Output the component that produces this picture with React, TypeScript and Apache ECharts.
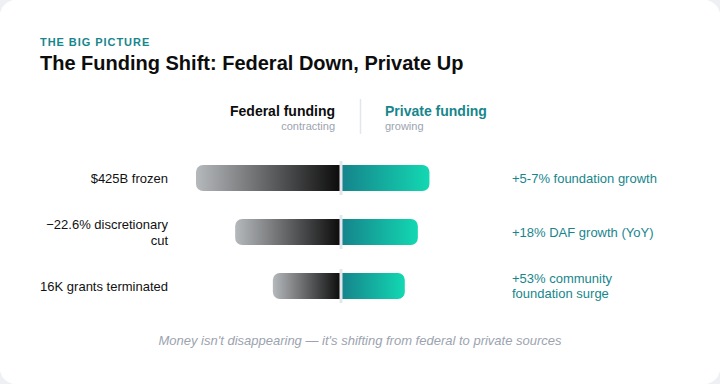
import React, { useEffect, useRef } from "react";
import * as echarts from "echarts";

const leftLabels = ["$425B frozen", "−22.6% discretionary cut", "16K grants terminated"];
const rightLabels = ["+5-7% foundation growth", "+18% DAF growth (YoY)", "+53% community foundation surge"];
const federalValues = [-100, -73, -47];
const privateValues = [61, 53, 44];
const centerMarks = [[0, 0], [0, 1], [0, 2]];

const TEAL = "#17868c";
const FONT = "'Liberation Sans', Arial, Helvetica, sans-serif";

function wrap(text: string, maxWidth: number, font: string): string {
  const ctx = document.createElement("canvas").getContext("2d")!;
  ctx.font = font;
  const words = text.split(" ");
  const lines: string[] = [];
  let cur = "";
  for (const w of words) {
    const test = cur ? cur + " " + w : w;
    if (cur && ctx.measureText(test).width > maxWidth) {
      lines.push(cur);
      cur = w;
    } else {
      cur = test;
    }
  }
  if (cur) lines.push(cur);
  return lines.join("\n");
}

export default function App() {
  const ref = useRef<HTMLDivElement>(null);
  useEffect(() => {
    document.body.style.margin = "0";
    document.body.style.background = "#eef0f3";
    const chart = echarts.init(ref.current!, undefined, { renderer: "svg" });
    const labelFont = `13px ${FONT}`;
    chart.setOption({
      animation: false,
      backgroundColor: "#ffffff",
      textStyle: { fontFamily: FONT },
      grid: { left: 196, right: 234, top: 151, bottom: 71 },
      xAxis: {
        type: "value",
        min: -100,
        max: 100,
        show: false,
      },
      yAxis: [
        {
          type: "category",
          data: leftLabels,
          inverse: true,
          position: "left",
          axisLine: { show: false },
          axisTick: { show: false },
          splitLine: { show: false },
          axisLabel: {
            margin: 28,
            fontSize: 13,
            lineHeight: 16,
            color: "#111111",
            fontFamily: FONT,
            align: "right",
            formatter: (v: string) => wrap(v, 135, labelFont),
          },
        },
        {
          type: "category",
          data: rightLabels,
          inverse: true,
          position: "right",
          axisLine: { show: false },
          axisTick: { show: false },
          splitLine: { show: false },
          axisLabel: {
            margin: 26,
            fontSize: 13,
            lineHeight: 15,
            color: TEAL,
            fontFamily: FONT,
            align: "left",
            formatter: (v: string) => wrap(v, 150, labelFont),
          },
        },
      ],
      series: [
        {
          type: "bar",
          stack: "s",
          barWidth: 26,
          data: federalValues,
          itemStyle: {
            borderRadius: [7, 0, 0, 7],
            color: new echarts.graphic.LinearGradient(0, 0, 1, 0, [
              { offset: 0, color: "#b6b9bc" },
              { offset: 1, color: "#0b0b0b" },
            ]),
          },
        },
        {
          type: "bar",
          stack: "s",
          barWidth: 26,
          data: privateValues,
          itemStyle: {
            borderRadius: [0, 7, 7, 0],
            color: new echarts.graphic.LinearGradient(0, 0, 1, 0, [
              { offset: 0, color: "#15838b" },
              { offset: 1, color: "#13d8b2" },
            ]),
          },
        },
        {
          type: "scatter",
          data: centerMarks,
          symbol: "rect",
          symbolSize: [3, 34],
          itemStyle: { color: "#e3e6ea", opacity: 1 },
          z: 5,
          silent: true,
        },
      ],
      graphic: [
        {
          type: "text",
          x: 40,
          y: 42,
          style: {
            text: "THE BIG PICTURE",
            font: `bold 11px ${FONT}`,
            fill: TEAL,
            textVerticalAlign: "middle",
          },
        },
        {
          type: "text",
          x: 40,
          y: 63,
          style: {
            text: "The Funding Shift: Federal Down, Private Up",
            font: `bold 20px ${FONT}`,
            fill: "#0d0d0d",
            textVerticalAlign: "middle",
          },
        },
        {
          type: "text",
          x: 335,
          y: 111,
          style: {
            text: "Federal funding",
            font: `bold 14px ${FONT}`,
            fill: "#0d0d0d",
            textAlign: "right",
            textVerticalAlign: "middle",
          },
        },
        {
          type: "text",
          x: 335,
          y: 126,
          style: {
            text: "contracting",
            font: `11px ${FONT}`,
            fill: "#9ca3af",
            textAlign: "right",
            textVerticalAlign: "middle",
          },
        },
        {
          type: "line",
          shape: { x1: 360.5, y1: 99, x2: 360.5, y2: 134 },
          style: { stroke: "#e3e6ea", lineWidth: 1.5 },
        },
        {
          type: "text",
          x: 385,
          y: 111,
          style: {
            text: "Private funding",
            font: `bold 14px ${FONT}`,
            fill: TEAL,
            textAlign: "left",
            textVerticalAlign: "middle",
          },
        },
        {
          type: "text",
          x: 385,
          y: 126,
          style: {
            text: "growing",
            font: `11px ${FONT}`,
            fill: "#9ca3af",
            textAlign: "left",
            textVerticalAlign: "middle",
          },
        },
        {
          type: "text",
          x: 360,
          y: 340,
          style: {
            text: "Money isn't disappearing — it's shifting from federal to private sources",
            font: `italic 13px ${FONT}`,
            fill: "#9ca3af",
            textAlign: "center",
            textVerticalAlign: "middle",
          },
        },
      ],
    });
    // widen the kicker's letter spacing to match the reference
    ref.current!.querySelectorAll("text").forEach((t) => {
      if (t.textContent === "THE BIG PICTURE") {
        (t as SVGTextElement).style.letterSpacing = "0.95px";
      }
    });
    return () => chart.dispose();
  }, []);
  return (
    <div
      style={{
        width: 720,
        height: 384,
        borderRadius: 16,
        overflow: "hidden",
        background: "#ffffff",
      }}
    >
      <div ref={ref} style={{ width: 720, height: 384 }} />
    </div>
  );
}
